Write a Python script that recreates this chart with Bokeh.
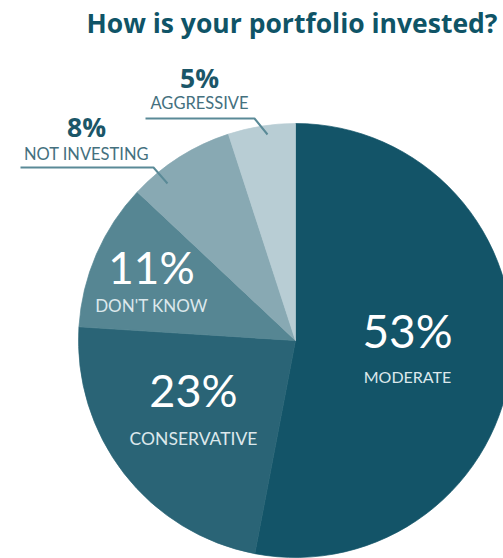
import numpy as np
from bokeh.plotting import figure
from bokeh.models import ColumnDataSource, Range1d
from bokeh.core.properties import value
from bokeh.embed import file_html
from bokeh.resources import INLINE

# ---- data ----
categories = ["MODERATE", "CONSERVATIVE", "DON'T KNOW", "NOT INVESTING", "AGGRESSIVE"]
percents = [53, 23, 11, 8, 5]
slice_colors = ["#135468", "#2a6476", "#568693", "#88a9b3", "#b8cdd4"]
title_text = "How is your portfolio invested?"

# ---- layout (reference pixel coordinates; y measured from the top) ----
W, H = 503, 558
def Y(y):
    return H - y

SHIFT = 0.38  # baseline correction, in em

def TY(baseline, size):
    return Y(baseline - SHIFT * size)

cx, cy, R = 295, 340, 217

p = figure(width=W, height=H, output_backend="svg", toolbar_location=None,
           x_range=Range1d(0, W), y_range=Range1d(0, H), min_border=0)
p.axis.visible = False
p.grid.visible = False
p.outline_line_color = None
p.background_fill_color = "white"

# slices, clockwise from 12 o'clock
vals = np.array(percents, dtype=float)
cum = np.concatenate([[0], np.cumsum(vals)]) / vals.sum() * 360.0
start_cw = cum[:-1]
end_cw = cum[1:]
src = ColumnDataSource(dict(
    start=np.radians(90 - end_cw), end=np.radians(90 - start_cw),
    color=slice_colors, cat=categories))
p.wedge(x=cx, y=Y(cy), radius=R, start_angle="start", end_angle="end",
        direction="anticlock", fill_color="color", line_color="color",
        line_width=0.7, source=src)

FONT = value("Lato")

# title
ts = 26.5
p.text(x=[497], y=[TY(33, ts)], text=[title_text], text_font=value("Open Sans"),
       text_font_size=f"{ts}px", text_font_style="bold", text_color="#0f5467",
       text_align="right", text_baseline="alphabetic")

# inside labels
inside = [
    # (index, x, pct baseline, label baseline, pct size, label size)
    (0, 407, 347, 382, 46, 16),
    (1, 193, 407, 445, 45, 17.5),
    (2, 151, 283, 311, 44, 17),
]
for i, x, yb1, yb2, fs1, fs2 in inside:
    p.text(x=[x], y=[TY(yb1, fs1)], text=[f"{percents[i]}%"], text_font=FONT,
           text_font_size=f"{fs1}px", text_color="white", text_align="center",
           text_baseline="alphabetic")
    p.text(x=[x], y=[TY(yb2, fs2)], text=[categories[i]], text_font=FONT,
           text_font_size=f"{fs2}px", text_color="#dce8ec", text_align="center",
           text_baseline="alphabetic")

# outside labels with leader lines
outside = [
    # (index, x, pct baseline, label baseline, line pts)
    (3, 86, 137, 160, [(20, 167), (153, 167), (167, 183)]),
    (4, 199, 88, 109, [(145, 118), (254, 118), (267, 134)]),
]
os_ = 26.5
for i, x, yb1, yb2, pts in outside:
    p.text(x=[x], y=[TY(yb1, os_)], text=[f"{percents[i]}%"], text_font=value("Open Sans"),
           text_font_size=f"{os_}px", text_font_style="bold", text_color="#1b5668",
           text_align="center", text_baseline="alphabetic")
    p.text(x=[x], y=[TY(yb2, 16.5)], text=[categories[i]], text_font=FONT,
           text_font_size="16.5px", text_color="#44707e", text_align="center",
           text_baseline="alphabetic")
    p.line(x=[q[0] for q in pts], y=[Y(q[1]) for q in pts],
           line_color="#5a8a97", line_width=2)

open("out.html", "w").write(file_html(p, INLINE))
